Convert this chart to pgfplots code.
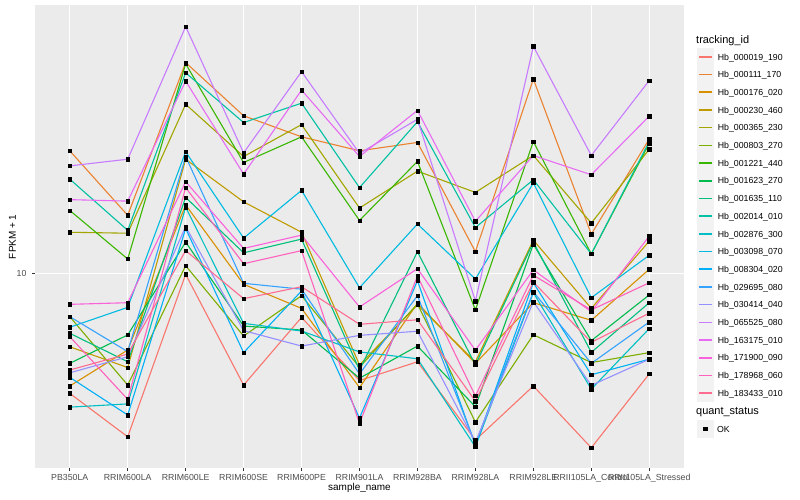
\documentclass[border=0pt]{standalone}
\usepackage{fontspec}
\setmainfont{Liberation Sans}
\usepackage{pgfplots}
\usepackage{pgfplotstable}
\pgfplotsset{compat=1.18}
\definecolor{c1}{HTML}{F8766D}
\definecolor{c2}{HTML}{EA8331}
\definecolor{c3}{HTML}{D89000}
\definecolor{c4}{HTML}{C09B00}
\definecolor{c5}{HTML}{A3A500}
\definecolor{c6}{HTML}{7CAE00}
\definecolor{c7}{HTML}{39B600}
\definecolor{c8}{HTML}{00BB4E}
\definecolor{c9}{HTML}{00BF7D}
\definecolor{c10}{HTML}{00C1A3}
\definecolor{c11}{HTML}{00BFC4}
\definecolor{c12}{HTML}{00BAE0}
\definecolor{c13}{HTML}{00B0F6}
\definecolor{c14}{HTML}{35A2FF}
\definecolor{c15}{HTML}{9590FF}
\definecolor{c16}{HTML}{C77CFF}
\definecolor{c17}{HTML}{E76BF3}
\definecolor{c18}{HTML}{FA62DB}
\definecolor{c19}{HTML}{FF62BC}
\definecolor{c20}{HTML}{FF6C91}
\definecolor{panel}{HTML}{EBEBEB}
\definecolor{keyc}{HTML}{F2F2F2}
\definecolor{tickc}{HTML}{333333}
\definecolor{labc}{HTML}{4D4D4D}
\pgfplotstableread{
x S1 S2 S3 S4 S5 S6 S7 S8 S9 S10 S11 S12 S13 S14 S15 S16 S17 S18 S19 S20
0 3.98 25.6 4.21 5.69 13.7 7.17 16.2 5.01 6.31 20.6 3.58 6.61 4.50 7.17 4.66 22.8 17.6 7.88 6.15 4.76
1 2.85 15.6 5.55 4.85 13.6 4.24 11.16 6.23 5.07 13.9 3.67 7.70 3.37 5.48 5.27 24.0 17.4 7.98 3.80 5.38
2 9.92 50.4 16.9 24.0 36.6 10.60 49.9 12.7 17.9 46.6 16.6 25.4 14.1 24.5 14.3 66.4 43.7 20.2 19.3 11.9
3 4.24 33.5 9.19 17.3 24.5 6.18 23.4 6.67 11.7 31.8 6.81 13.1 5.44 9.26 6.44 25.2 21.4 12.1 10.76 8.23
4 7.13 28.5 7.64 13.7 31.3 8.42 28.5 6.47 13.0 36.9 6.42 18.9 8.73 8.85 5.72 47.0 40.8 13.4 11.9 9.02
5 4.39 25.6 4.16 4.95 16.5 4.86 15.0 4.47 4.76 19.3 5.47 8.95 3.29 4.62 6.21 25.1 24.5 7.72 3.16 6.76
6 5.07 27.3 7.95 7.85 21.9 7.90 23.6 5.72 11.8 32.0 5.19 14.6 9.45 8.42 6.41 32.6 34.9 10.36 9.79 7.00
7 2.78 11.8 5.01 5.07 18.6 3.19 7.55 3.59 4.95 14.2 2.64 9.57 2.66 2.70 2.73 8.08 14.9 5.54 3.90 3.75
8 4.21 44.4 7.98 12.9 24.7 6.24 27.5 12.5 12.7 20.5 8.62 20.0 9.30 8.68 8.04 57.1 24.7 10.26 9.85 9.35
9 2.62 13.5 6.97 7.64 14.7 5.04 11.6 5.96 5.45 11.6 4.11 8.29 4.59 5.01 4.23 24.7 21.3 7.45 7.55 5.89
10 4.62 28.0 10.31 12.8 25.9 5.44 27.1 8.47 7.98 27.5 6.54 11.48 5.17 6.88 5.17 43.9 33.4 13.3 9.30 7.36
}\data
\begin{document}
\begin{tikzpicture}
\path[use as bounding box, fill=white] (0,0) rectangle (800bp,500bp);
\begin{axis}[
  at={(35bp,31.7bp)}, anchor=south west,
  scale only axis, width=649bp, height=463bp,
  xmin=-0.6, xmax=10.6,
  ymode=log, ymin=2.2387, ymax=78.22,
  xtick={0,...,10},
  xticklabels={PB350LA,RRIM600LA,RRIM600LE,RRIM600SE,RRIM600PE,RRIM901LA,RRIM928BA,RRIM928LA,RRIM928LE,RRII105LA\_Control,RRII105LA\_Stressed},
  ytick={10}, yticklabels={10},
  yminorticks=false, xminorticks=false,
  xtick pos=bottom, ytick pos=left,
  axis background/.style={fill=panel},
  axis line style={draw=none},
  xmajorgrids, ymajorgrids,
  major grid style={white, line width=1.1bp},
  tick align=outside, major tick length=2.75bp,
  tick style={color=tickc, line width=1.1bp},
  ticklabel style={font=\fontsize{8.8}{10}\selectfont, text=labc},
  xticklabel style={inner sep=0pt, anchor=north, yshift=-3.2bp},
  yticklabel style={inner sep=0pt, anchor=east, xshift=-5.6bp},
  /pgf/number format/assume math mode=true,
  xlabel={sample\_name}, ylabel={FPKM + 1},
  label style={font=\fontsize{11}{13}\selectfont},
  every axis x label/.style={at={(axis description cs:0.5,-0.049)}, anchor=base},
  every axis y label/.style={at={(axis description cs:-0.0347,0.5)}, anchor=center, rotate=90},
  legend style={at={(axis description cs:1.0196,0.9077)}, anchor=north west,
    draw=none, fill=none, inner sep=0pt, outer sep=0pt, row sep=0pt,
    font=\fontsize{8.8}{10}\selectfont,
    nodes={inner sep=0pt, minimum height=17.32bp, text depth=0pt, anchor=west},
    /tikz/every odd column/.append style={column sep=3.4bp}},
  legend cell align=left,
  legend image code/.code={\fill[keyc] (0bp,-8.3bp) rectangle (16.6bp,8.3bp); \draw[#1, line width=1.6bp] (1.7bp,0bp) -- (14.9bp,0bp);},
]
\pgfplotsinvokeforeach{1,...,20}{
  \addplot[draw=c#1, line width=1.1bp, mark=none] table[x=x, y=S#1]{\data};
}
\pgfplotsinvokeforeach{1,...,20}{
  \addplot[only marks, mark=square*, mark size=1.7bp, black, forget plot] table[x=x, y=S#1]{\data};
}
\legend{Hb\_000019\_190,Hb\_000111\_170,Hb\_000176\_020,Hb\_000230\_460,Hb\_000365\_230,Hb\_000803\_270,Hb\_001221\_440,Hb\_001623\_270,Hb\_001635\_110,Hb\_002014\_010,Hb\_002876\_300,Hb\_003098\_070,Hb\_008304\_020,Hb\_029695\_080,Hb\_030414\_040,Hb\_065525\_080,Hb\_163175\_010,Hb\_171900\_090,Hb\_178968\_060,Hb\_183433\_010}
\end{axis}
\begin{axis}[
  at={(35bp,31.7bp)}, anchor=south west,
  scale only axis, width=649bp, height=463bp,
  hide axis, xmin=0, xmax=1, ymin=0, ymax=1,
  legend style={at={(axis description cs:1.0196,0.1036)}, anchor=north west,
    draw=none, fill=none, inner sep=0pt, outer sep=0pt,
    font=\fontsize{8.8}{10}\selectfont,
    nodes={inner sep=0pt, minimum height=17.32bp, text depth=0pt, anchor=west},
    /tikz/every odd column/.append style={column sep=3.4bp}},
  legend cell align=left,
  legend image code/.code={\fill[keyc] (0bp,-8.3bp) rectangle (16.6bp,8.3bp); \fill[black] (6.6bp,-1.7bp) rectangle (10bp,1.7bp);},
]
\addlegendimage{black}
\addlegendentry{OK}
\end{axis}
\node[anchor=west, inner sep=0pt, font=\fontsize{11}{13}\selectfont] at (696bp,459.3bp) {tracking\_id};
\node[anchor=west, inner sep=0pt, font=\fontsize{11}{13}\selectfont] at (696bp,87.7bp) {quant\_status};
\end{tikzpicture}
\end{document}
